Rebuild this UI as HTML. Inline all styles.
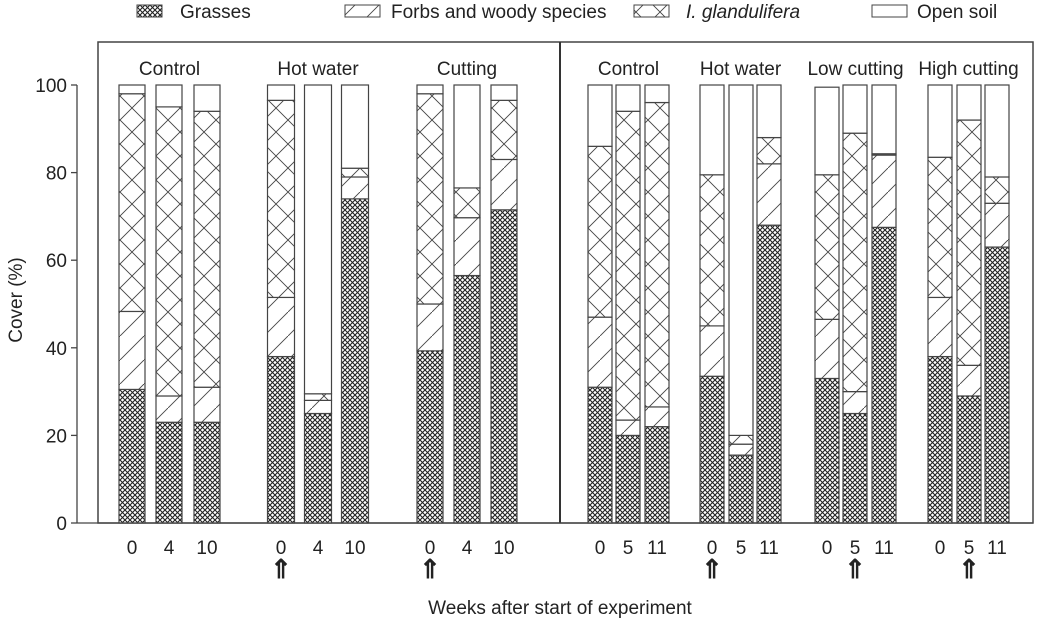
<!DOCTYPE html>
<html><head><meta charset="utf-8"><style>
body{margin:0;background:#fff}
svg text{font-family:"Liberation Sans",sans-serif;fill:#222}
</style></head><body>
<svg id="c" width="1041" height="624" viewBox="0 0 1041 624" xmlns="http://www.w3.org/2000/svg">
<defs>
<pattern id="pg" width="5" height="5" patternUnits="userSpaceOnUse"><rect width="5" height="5" fill="#fff"/><path d="M0,0L5,5M5,0L0,5" stroke="#222" stroke-width="1.1"/></pattern>
<pattern id="pf" width="24" height="24" patternUnits="userSpaceOnUse"><rect width="24" height="24" fill="#fff"/><path d="M0,24L24,0" stroke="#444" stroke-width="0.9"/></pattern>
<pattern id="pi" width="24" height="24" patternUnits="userSpaceOnUse"><rect width="24" height="24" fill="#fff"/><path d="M0,0L24,24M24,0L0,24" stroke="#444" stroke-width="0.9"/></pattern>
</defs>
<g>
<g><rect x="137" y="5" width="25" height="12" fill="url(#pg)" stroke="#444"/><text x="180" y="18" font-size="19">Grasses</text></g>
<g><rect x="345" y="5" width="35" height="12" fill="url(#pf)" stroke="#444"/><text x="391" y="18" font-size="19">Forbs and woody species</text></g>
<g><rect x="634" y="5" width="35" height="12" fill="url(#pi)" stroke="#444"/><text x="686" y="18" font-size="19" font-style="italic">I. glandulifera</text></g>
<g><rect x="872" y="5" width="35" height="12" fill="#fff" stroke="#444"/><text x="917" y="18" font-size="19">Open soil</text></g>
</g>
<rect x="98" y="42" width="935" height="481" fill="none" stroke="#444" stroke-width="1.5"/>
<line x1="560" y1="42" x2="560" y2="523" stroke="#333" stroke-width="2"/>
<g id="bars"></g>
<g id="axis"></g>
<text x="22" y="300" font-size="19" transform="rotate(-90 22 300)" text-anchor="middle">Cover (%)</text>
<text x="560" y="614" font-size="19" text-anchor="middle">Weeks after start of experiment</text>
</svg>
<script>
const categories=["0","4","10","0","4","10","0","4","10","0","5","11","0","5","11","0","5","11","0","5","11"];
const grasses=[30.5,23,23,38,25,74,39.3,56.5,71.5,31,20,22,33.5,15.5,68,33,25,67.5,38,29,63];
const forbs=[17.8,6,8,13.5,3,5,10.7,13.2,11.5,16,3.5,4.5,11.5,2.5,14,13.5,5,16.5,13.5,7,10];
const glandulifera=[49.7,66,63,45,1.5,2,48,6.8,13.5,39,70.5,69.5,34.5,2,6,33,59,0.3,32,56,6];
const openSoil=[2,5,6,3.5,70.5,19,2,23.5,3.5,14,6,4,20.5,80,12,20,11,15.7,16.5,8,21];
const groupLabels=["Control","Hot water","Cutting","Control","Hot water","Low cutting","High cutting"];
const arrowBars=[3,6,12,16,19];
const yTicks=[0,20,40,60,80,100];
const centers=[132,169,207,281,318,355,430,467,504,600,628,657,712,741,769,827,855,884,940,969,997];
const widths=[26,26,26,27,27,27,26,26,26,24,24,24,24,24,24,24,24,24,24,24,24];
const y=v=>523-v*4.38;
const NS="http://www.w3.org/2000/svg";
const bars=document.getElementById('bars'),axis=document.getElementById('axis'),svg=document.getElementById('c');
function mk(t,a,p){const e=document.createElementNS(NS,t);for(const k in a)e.setAttribute(k,a[k]);p.appendChild(e);return e;}
const series=[[grasses,'url(#pg)','grasses'],[forbs,'url(#pf)','forbs'],[glandulifera,'url(#pi)','glandulifera'],[openSoil,'#fff','open-soil']];
categories.forEach((c,i)=>{
  let base=0;const x=centers[i]-widths[i]/2;
  series.forEach(([arr,fill,nm])=>{
    const v=arr[i];
    const r=mk('rect',{x:x,y:y(base+v),width:widths[i],height:v*4.38,fill:fill,stroke:'#444','stroke-width':1.2},bars);
    
    
    base+=v;
  });
  const t=mk('text',{x:centers[i],y:554,'font-size':19,'text-anchor':'middle'},svg);
  t.textContent=c;
  
  
});
groupLabels.forEach((g,k)=>{
  const cx=(centers[k*3]+centers[k*3+2])/2;
  const t=mk('text',{x:cx,y:75,'font-size':19,'text-anchor':'middle'},svg);
  t.textContent=g;
  
  
});
arrowBars.forEach(i=>{
  const t=mk('text',{x:centers[i],y:578,'font-size':26,'font-weight':'bold','text-anchor':'middle'},svg);
  t.textContent='⇑';
  
  
});
mk('line',{x1:77,y1:y(100),x2:77,y2:523,stroke:'#444','stroke-width':1.3},axis);
mk('line',{x1:77,y1:523,x2:1033,y2:523,stroke:'#444','stroke-width':1.3},axis);
yTicks.forEach(v=>{
  mk('line',{x1:71,y1:y(v),x2:77,y2:y(v),stroke:'#444','stroke-width':1.3},axis);
  const t=mk('text',{x:67,y:y(v)+7,'font-size':19,'text-anchor':'end'},axis);
  t.textContent=v;
  
  
});
</script>
</body></html>
